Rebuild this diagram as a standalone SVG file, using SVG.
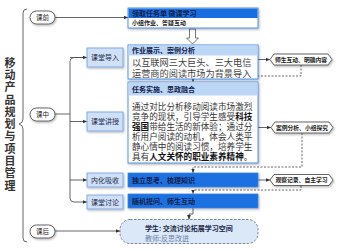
<svg xmlns="http://www.w3.org/2000/svg" width="338" height="251" viewBox="0 0 338 251">
<style>
text{font-family:"Noto Sans CJK SC","Liberation Sans",sans-serif;fill:#222}
.ttl{font-size:11px;font-weight:bold;fill:#333;writing-mode:vertical-rl;letter-spacing:1.3px}
.pill{fill:#fff;stroke:#555;stroke-width:0.9}
.pt{font-size:6.5px;text-anchor:middle}
.lb{fill:#cfe0f7;stroke:#6d9ee0;stroke-width:0.8}
.lt{font-size:7px;text-anchor:middle;fill:#1b2a4a}
.box{fill:#fff;stroke:#3f86e0;stroke-width:0.9}
.hdr{fill:#bcd6f6}
.bar{fill:#1a6fe0}
.ht{font-size:7px;font-weight:bold;fill:#10204a}
.side{fill:#fff;stroke:#555;stroke-width:0.9;stroke-linejoin:round}
.st{font-size:5.8px;text-anchor:middle;font-weight:bold}
.ln{fill:none;stroke:#555;stroke-width:0.9}
.dl{fill:none;stroke:#555;stroke-width:0.9;stroke-dasharray:2,1.5}
.body{font-family:"Liberation Sans","Noto Sans CJK SC",sans-serif;font-size:9.2px;fill:#444}
.ser{font-family:"Liberation Serif","Noto Sans CJK SC",serif;font-size:8.6px;fill:#333}
.bd{font-weight:bold;fill:#111}
</style>
<defs>
<marker id="ar" viewBox="0 0 6 6" refX="6" refY="3" markerWidth="5" markerHeight="5" orient="auto"><path d="M0,0.5 L6,3 L0,5.5 Z" fill="#333"/></marker>
<filter id="sh" x="-10%" y="-10%" width="130%" height="140%"><feDropShadow dx="1" dy="1.2" stdDeviation="0.8" flood-color="#000" flood-opacity="0.3"/></filter>
</defs>

<g id="title">
<text class="ttl" x="10" y="57">移动产品规划与项目管理</text>
</g>

<g id="connectors">
<path class="ln" d="M27,9 Q23,9 23,13 L23,119 Q23,123 19,124 Q23,125 23,129 L23,238 Q23,242 27,242"/>
<path class="ln" d="M55,17.5 L128,17.5" marker-end="url(#ar)"/>
<path class="ln" d="M55,114 L70,114"/>
<path class="ln" d="M87,57.5 L74,57.5 Q70,57.5 70,61.5 L70,198 Q70,202 74,202 L87,202" marker-end="url(#ar)"/>
<path class="ln" d="M70,57.5 L87,57.5" marker-end="url(#ar)"/>
<path class="ln" d="M70,121.5 L87,121.5" marker-end="url(#ar)"/>
<path class="ln" d="M70,180 L87,180" marker-end="url(#ar)"/>
<path class="ln" d="M55,231 L120,231" marker-end="url(#ar)"/>
<path class="ln" d="M258,59.5 L270,59.5" marker-end="url(#ar)"/>
<path class="ln" d="M258,127.5 L271,127.5" marker-end="url(#ar)"/>
<path class="ln" d="M258,180 L270,180" marker-end="url(#ar)"/>
<path class="dl" d="M301,65 L301,76 L193,76 L193,82" marker-end="url(#ar)"/>
<path class="dl" d="M302,133 L302,167 L193,167 L193,173" marker-end="url(#ar)"/>
<path class="dl" d="M301,186 L301,190 L193,190 L193,194" marker-end="url(#ar)"/>
<path class="ln" d="M193,208 L193,214 L189,214 L189,219.5" marker-end="url(#ar)"/>
<path d="M189.5,29 L195.5,29 L195.5,38 L198.5,38 L192.5,44 L186.5,38 L189.5,38 Z" fill="#fff" stroke="#555" stroke-width="0.8"/>
</g>

<g id="kq">
<rect class="pill" x="30" y="11" width="25" height="13" rx="6.5" filter="url(#sh)"/>
<text class="pt" x="42.5" y="20">课前</text>
</g>
<g id="kz">
<rect class="pill" x="30" y="108" width="25" height="13" rx="6.5" filter="url(#sh)"/>
<text class="pt" x="42.5" y="117">课中</text>
</g>
<g id="kh">
<rect class="pill" x="30" y="225" width="25" height="13" rx="6.5" filter="url(#sh)"/>
<text class="pt" x="42.5" y="234">课后</text>
</g>

<g id="ktdr">
<rect class="lb" x="87" y="48" width="36" height="19" filter="url(#sh)"/>
<text class="lt" x="105" y="60">课堂导入</text>
</g>
<g id="ktjs">
<rect class="lb" x="87" y="112" width="36" height="19" filter="url(#sh)"/>
<text class="lt" x="105" y="124">课堂讲授</text>
</g>
<g id="nhxs">
<rect class="lb" x="87" y="173" width="36" height="14" filter="url(#sh)"/>
<text class="lt" x="105" y="182.6">内化吸收</text>
</g>
<g id="kttl">
<rect class="lb" x="87" y="195" width="36" height="14" filter="url(#sh)"/>
<text class="lt" x="105" y="204.6">课堂讨论</text>
</g>

<g id="lqrw">
<rect class="box" x="128" y="8" width="130" height="20" filter="url(#sh)"/>
<rect class="bar" x="128.5" y="8.5" width="129" height="9.5"/>
<text class="ht" x="132" y="16">领取任务单 微课学习</text>
<text x="132" y="25.3" style="font-size:6px;font-weight:bold">小组作业、答疑互动</text>
</g>

<g id="zyzs">
<rect class="box" x="128" y="45" width="130" height="34" filter="url(#sh)"/>
<rect class="hdr" x="128.5" y="45.5" width="129" height="10"/>
<text class="ht" x="132" y="53.3">作业展示、案例分析</text>
<text class="body" x="132" y="66">以互联网三大巨头、三大电信</text>
<text class="body" x="132" y="76.5">运营商的阅读市场为背景导入</text>
</g>

<g id="rwss">
<rect class="box" x="128" y="82" width="130" height="81" filter="url(#sh)"/>
<rect class="hdr" x="128.5" y="82.5" width="129" height="13"/>
<text class="ht" x="132" y="92">任务实施、思政融合</text>
<text class="ser" x="132" y="110">通过对比分析移动阅读市场激烈</text>
<text class="ser" x="132" y="120">竞争的现状，引导学生感受<tspan class="bd">科技</tspan></text>
<text class="ser" x="132" y="130"><tspan class="bd">强国</tspan>带给生活的新体验；通过分</text>
<text class="ser" x="132" y="140">析用户阅读的动机，体会人类平</text>
<text class="ser" x="132" y="150">静心情中的阅读习惯，培养学生</text>
<text class="ser" x="132" y="160">具有<tspan class="bd">人文关怀的职业素养精神</tspan>。</text>
</g>

<g id="dlsk">
<rect class="bar" x="128" y="173" width="130" height="14" stroke="#3f86e0" stroke-width="0.8" filter="url(#sh)"/>
<text class="ht" x="132" y="182.6">独立思考、梳理知识</text>
</g>
<g id="sjtw">
<rect class="bar" x="128" y="194" width="130" height="14" stroke="#3f86e0" stroke-width="0.8" filter="url(#sh)"/>
<text class="ht" x="132" y="203.6">随机提问、师生互动</text>
</g>

<g id="sshd">
<path class="side" d="M274,54 L328,54 L332,59.5 L328,65 L274,65 L270,59.5 Z" filter="url(#sh)"/>
<text class="st" x="301" y="61.7">师生互动、明确内容</text>
</g>
<g id="alfx">
<path class="side" d="M275,122 L329,122 L333,127.5 L329,133 L275,133 L271,127.5 Z" filter="url(#sh)"/>
<text class="st" x="302" y="129.7">案例分析、小组探究</text>
</g>
<g id="gcjl">
<path class="side" d="M274,174.5 L329,174.5 L333,180 L329,185.5 L274,185.5 L270,180 Z" filter="url(#sh)"/>
<text class="st" x="301.5" y="182.2">观察记录、自主学习</text>
</g>

<g id="kh-box">
<rect x="120" y="219.5" width="138" height="24" rx="10" fill="#dbe8f8" stroke="#667" stroke-width="0.8" stroke-dasharray="2.5,1.5"/>
<text x="145" y="231" style="font-size:7px;font-weight:bold;fill:#1b2a4a">学生: 交流讨论拓展学习空间</text>
<text x="145" y="240.5" style="font-size:7px;fill:#6a7fa8">教师:反思改进</text>
</g>
</svg>
